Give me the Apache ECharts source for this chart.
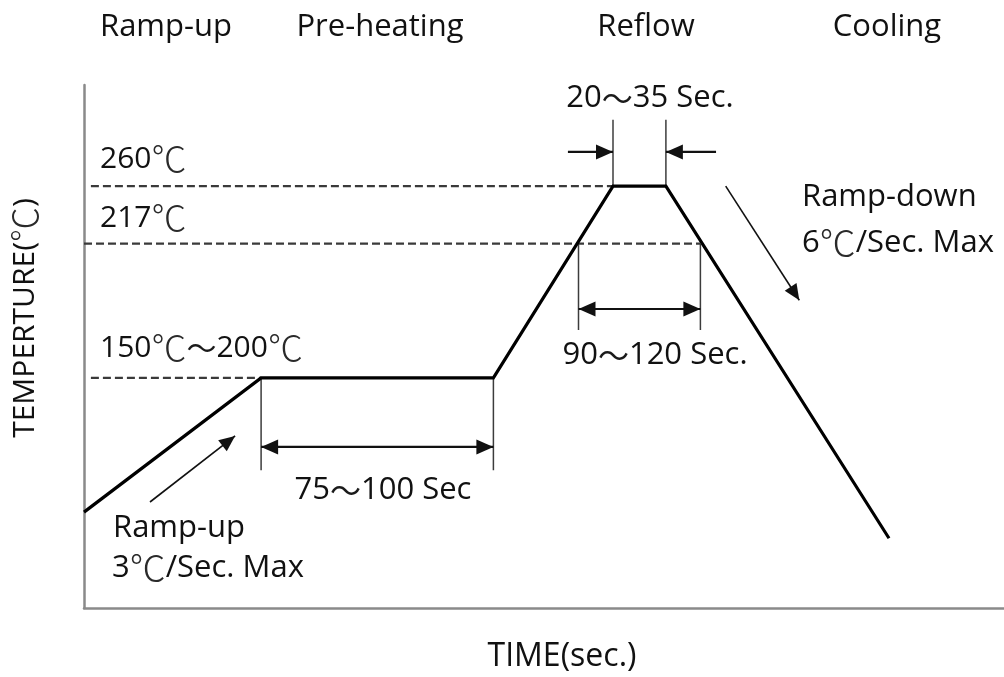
<!DOCTYPE html>
<html>
<head>
<meta charset="utf-8">
<script src="https://cdn.jsdelivr.net/npm/echarts@6/dist/echarts.min.js"></script>
<style>
html,body{margin:0;padding:0;background:#fff;}
#c{width:1004px;height:677px;}
</style>
</head>
<body>
<div id="c"></div>
<script>
// ---- Schematic data (time units on x, level units on y) ----
const profileTime = [0, 77, 178, 230, 253, 350];
const profileLevel = [55, 132, 132, 242, 242, 40];

// dashed guide lines: level, from-time, to-time
const guideLevel = [242, 209, 132];
const guideFrom = [3, 0, 3];
const guideTo = [230, 268, 77];
const guideLabels = ['260℃', '217℃', '150℃～200℃'];

// vertical marker lines: time, from-level, to-level
const markerTime = [77, 178, 215, 268, 230, 253];
const markerFrom = [132, 132, 209, 209, 242, 242];
const markerTo = [79, 79, 159.5, 159.5, 280, 280];

// dimension arrows: x1, y1, x2, y2, headAtStart, headAtEnd
const dimArrows = [
  [77, 92.4, 178, 92.4, 1, 1],
  [215, 171.5, 268, 171.5, 1, 1],
  [210.4, 261.6, 230, 261.6, 0, 1],
  [274.8, 261.6, 253, 261.6, 0, 1]
];
// ramp direction arrows
const rampArrows = [
  [28.7, 60.8, 65.7, 98.7, 0, 1],
  [279, 242, 311, 176.5, 0, 1]
];

const phaseLabels = ['Ramp-up', 'Pre-heating', 'Reflow', 'Cooling'];
const dimLabels = ['75～100 Sec', '90～120 Sec.', '20～35 Sec.'];
const rampUpLabel = ['Ramp-up', '3℃/Sec. Max'];
const rampDownLabel = ['Ramp-down', '6℃/Sec. Max'];
const yName = 'TEMPERTURE(℃)';
const xName = 'TIME(sec.)';

// ---- Build ----
const FONT = "'Open Sans', 'Noto Sans CJK SC', sans-serif";
const CJK = "'Noto Sans CJK SC', 'Noto Sans CJK JP', sans-serif";
const TXT = '#111';

function pairs(xs, ys) { return xs.map((x, i) => [x, ys[i]]); }

function arrowRenderer(color, width, headLen, headHalf) {
  return function (params, api) {
    const p1 = api.coord([api.value(0), api.value(1)]);
    const p2 = api.coord([api.value(2), api.value(3)]);
    const hs = api.value(4), he = api.value(5);
    const dx = p2[0] - p1[0], dy = p2[1] - p1[1];
    const len = Math.sqrt(dx * dx + dy * dy);
    const ux = dx / len, uy = dy / len;
    const px = -uy, py = ux;
    const children = [{
      type: 'line',
      shape: { x1: p1[0], y1: p1[1], x2: p2[0], y2: p2[1] },
      style: { stroke: color, lineWidth: width }
    }];
    function head(tip, sx, sy) {
      const bx = tip[0] - sx * headLen, by = tip[1] - sy * headLen;
      return {
        type: 'polygon',
        shape: { points: [tip, [bx + px * headHalf, by + py * headHalf], [bx - px * headHalf, by - py * headHalf]] },
        style: { fill: color }
      };
    }
    if (he) children.push(head(p2, ux, uy));
    if (hs) children.push(head(p1, -ux, -uy));
    return { type: 'group', children };
  };
}

const series = [];
guideLevel.forEach((lv, i) => {
  series.push({
    type: 'line', symbol: 'none', silent: true, z: 2,
    data: [[guideFrom[i], lv], [guideTo[i], lv]],
    lineStyle: { color: '#3a3a3a', width: 2.2, type: [8, 4] }
  });
});
markerTime.forEach((t, i) => {
  series.push({
    type: 'line', symbol: 'none', silent: true, z: 2,
    data: [[t, markerFrom[i]], [t, markerTo[i]]],
    lineStyle: { color: '#3c3c3c', width: 1.5 }
  });
});
series.push({
  type: 'line', symbol: 'none', silent: true, z: 5,
  data: pairs(profileTime, profileLevel),
  lineStyle: { color: '#000', width: 3.2, join: 'miter' }
});
series.push({
  type: 'custom', silent: true, z: 4,
  renderItem: arrowRenderer('#111', 2.2, 17, 7.5),
  data: dimArrows
});
series.push({
  type: 'custom', silent: true, z: 4,
  renderItem: arrowRenderer('#111', 1.6, 16, 7),
  data: rampArrows
});

function toRich(text) {
  return text.replace(/℃/g, '{c|℃}').replace(/～/g, '{t|～}');
}

function txt(text, x, y, size, align, rot) {
  return {
    type: 'text', x, y, rotation: rot || 0, silent: true,
    style: {
      text: toRich(text), fill: TXT,
      fontSize: size, fontFamily: FONT,
      align: align || 'left', verticalAlign: 'middle',
      textAlign: align || 'left', textVerticalAlign: 'middle',
      rich: {
        c: { fontFamily: CJK, fontSize: Math.round(size * 1.15), fill: '#2a2a2a', fontWeight: 300 },
        t: { fontFamily: CJK, fontSize: size, fill: '#1a1a1a' }
      }
    }
  };
}

const graphics = [
  txt(phaseLabels[0], 166, 27, 31, 'center'),
  txt(phaseLabels[1], 380, 27, 31, 'center'),
  txt(phaseLabels[2], 646, 27, 31, 'center'),
  txt(phaseLabels[3], 887, 27, 31, 'center'),
  txt(guideLabels[0], 100, 159, 30),
  txt(guideLabels[1], 100, 218, 30),
  txt(guideLabels[2], 100, 348, 30),
  txt(dimLabels[0], 383, 490, 31, 'center'),
  txt(dimLabels[1], 655, 355, 31, 'center'),
  txt(dimLabels[2], 650, 98, 31, 'center'),
  txt(rampUpLabel[0], 113, 528, 31),
  txt(rampUpLabel[1], 112, 568, 31),
  txt(rampDownLabel[0], 802, 197, 31),
  txt(rampDownLabel[1], 802, 243, 31),
  txt(yName, 25, 318, 30, 'center', Math.PI / 2),
  txt(xName, 562, 657, 32, 'center')
];

const chart = echarts.init(document.getElementById('c'), null, { renderer: 'canvas' });
chart.setOption({
  animation: false,
  backgroundColor: '#fff',
  grid: { left: 84, right: 0, top: 85, bottom: 69, containLabel: false },
  xAxis: {
    type: 'value', min: 0, max: 400,
    axisLine: { show: true, onZero: false, lineStyle: { color: '#8a8a8a', width: 2.5 } },
    axisTick: { show: false }, axisLabel: { show: false }, splitLine: { show: false }
  },
  yAxis: {
    type: 'value', min: 0, max: 300,
    axisLine: { show: true, onZero: false, lineStyle: { color: '#8a8a8a', width: 2.5 } },
    axisTick: { show: false }, axisLabel: { show: false }, splitLine: { show: false }
  },
  series,
  graphic: graphics
});
</script>
</body>
</html>
